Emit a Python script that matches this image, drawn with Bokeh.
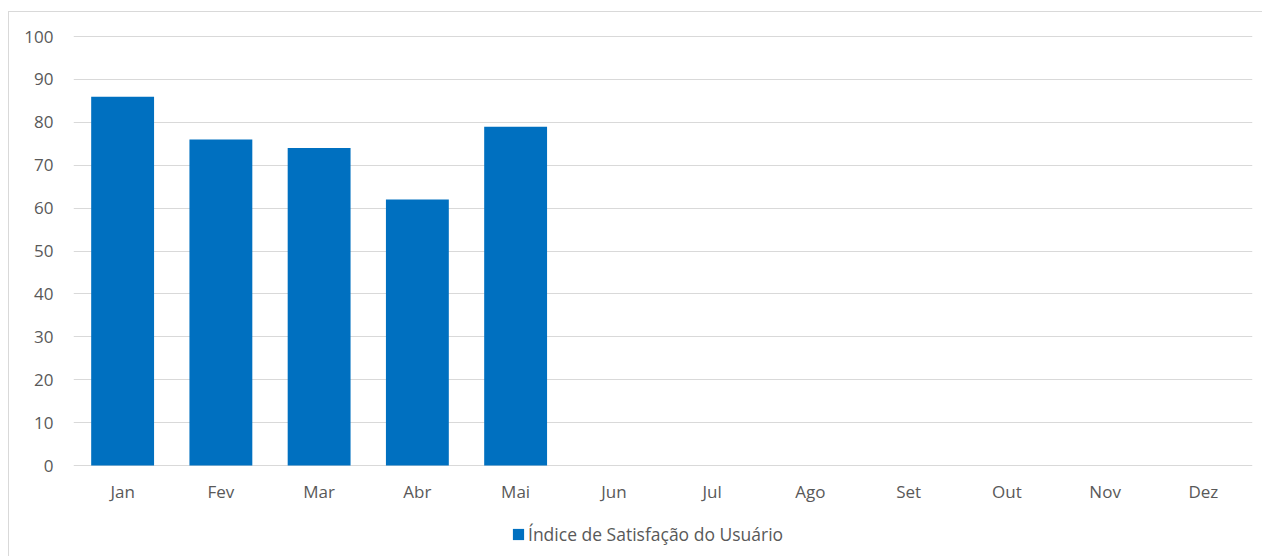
from bokeh.plotting import figure
from bokeh.models import Legend, LegendItem, ColumnDataSource, FixedTicker, Range1d
from bokeh.embed import file_html
from bokeh.resources import INLINE

months = ["Jan", "Fev", "Mar", "Abr", "Mai", "Jun", "Jul", "Ago", "Set", "Out", "Nov", "Dez"]
satisfacao = [86, 76, 74, 62, 79, None, None, None, None, None, None, None]
y_ticks = [0, 10, 20, 30, 40, 50, 60, 70, 80, 90, 100]
series_name = "Índice de Satisfação do Usuário"

xs = [m for m, v in zip(months, satisfacao) if v is not None]
ys = [v for v in satisfacao if v is not None]
src = ColumnDataSource(data=dict(x=xs, top=ys))

FONT = "Open Sans"
TXT = "#595959"
GRID = "#d9d9d9"
BLUE = "#0070C0"

# frame extends below the value axis so the legend can sit inside it
p = figure(
    x_range=months,
    y_range=Range1d(-21.43, 100.25),
    width=1254,
    height=545,
    output_backend="svg",
    toolbar_location=None,
    min_border_left=64,
    min_border_right=11,
    min_border_top=23,
    min_border_bottom=0,
    background_fill_color="white",
    border_fill_color="white",
)
p.styles = {
    "border-left": "1px solid #d9d9d9",
    "border-top": "1px solid #d9d9d9",
    "margin-left": "8px",
    "margin-top": "11px",
}
p.outline_line_color = None

r = p.vbar(x="x", top="top", width=0.64, source=src, fill_color=BLUE, line_color=None)

# axes
for ax in (p.xaxis[0], p.yaxis[0]):
    ax.axis_line_color = None
    ax.major_tick_line_color = None
    ax.minor_tick_line_color = None
    ax.major_tick_out = 0
    ax.major_tick_in = 0
    ax.minor_tick_out = 0
    ax.minor_tick_in = 0
    ax.major_label_text_font = FONT
    ax.major_label_text_font_size = "17px"
    ax.major_label_text_color = TXT
    ax.major_label_text_font_style = "normal"
p.yaxis[0].ticker = FixedTicker(ticks=y_ticks)
p.yaxis[0].major_label_standoff = 20
p.xaxis[0].major_label_standoff = 14
p.xaxis[0].fixed_location = 0

p.xgrid.grid_line_color = None
p.ygrid.grid_line_color = GRID
p.ygrid.grid_line_width = 1

legend = Legend(
    items=[LegendItem(label=series_name, renderers=[r])],
    location=(438, 11),
    orientation="horizontal",
    glyph_width=14,
    glyph_height=14,
    label_standoff=3,
    label_text_font=FONT,
    label_text_font_size="17.5px",
    label_text_color=TXT,
    label_height=20,
    padding=0,
    margin=0,
    spacing=0,
    border_line_color=None,
    background_fill_alpha=0,
)
p.add_layout(legend, "center")

open("out.html", "w").write(file_html(p, INLINE))
